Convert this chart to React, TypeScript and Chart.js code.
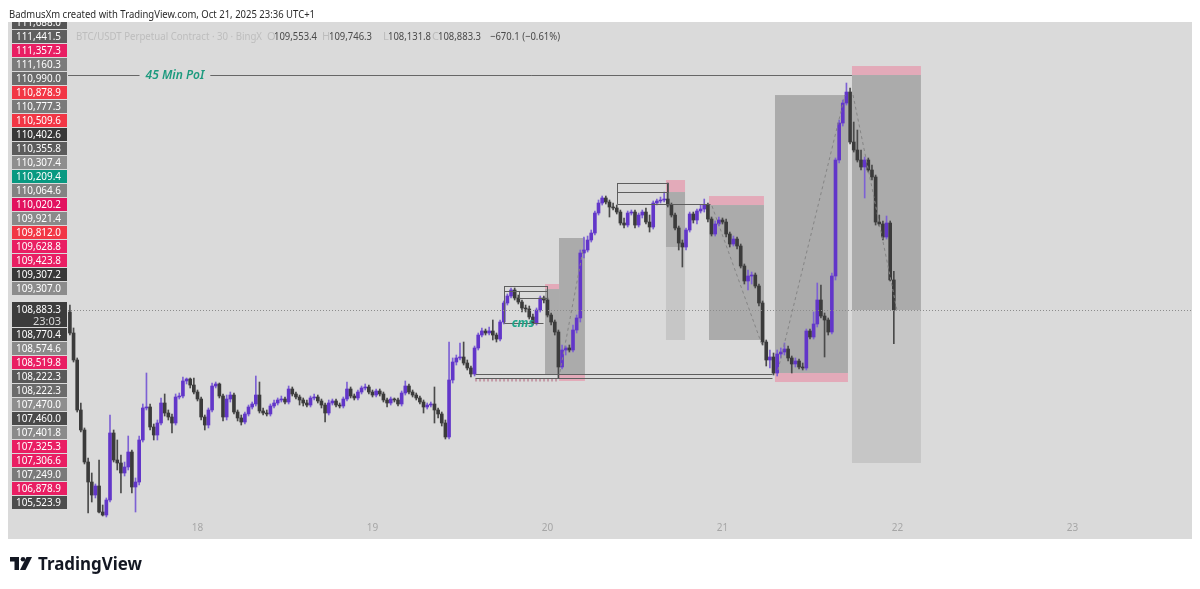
import React, { useEffect, useRef } from "react";
import { Chart, registerables } from "chart.js";

Chart.register(...registerables);

// ---------- data (BTC/USDT perpetual, 30 min candles, BingX) ----------
const FIRST_CANDLE_DAY = 17 + 13 / 48; // 17 Oct 06:30
const CANDLE_DAYS = 1 / 48; // 30 minutes
const FIRST_OPEN = 108838;

const closes = [
  108370, 107768, 106653, 106207, 105493, 105047, 104757, 104958, 104378, 104311,
  104646, 106140, 105538, 105471, 105248, 105382, 105716, 104936, 105047, 105984,
  106698, 106720, 106274, 106095, 106363, 106809, 106586, 106497, 106363, 106943,
  106965, 107300, 107344, 107210, 107054, 106898, 106497, 106318, 106653, 107188,
  107233, 106965, 106497, 106898, 106987, 106608, 106475, 106385, 106564, 106720,
  106787, 106987, 106631, 106586, 106564, 106742, 106809, 106876, 106898, 106831,
  107121, 107010, 106943, 106876, 106809, 106764, 106921, 106943, 106854, 106764,
  106586, 106809, 106854, 106764, 106742, 106898, 107121, 106965, 106921, 107054,
  107144, 107166, 107054, 106987, 107077, 107010, 106876, 106809, 106898, 106876,
  106787, 107032, 107188, 107054, 106987, 106921, 106831, 106720, 106764, 106787,
  106653, 106564, 106363, 106051, 107322, 107723, 107813, 107835, 107701, 107590,
  107456, 108036, 108325, 108415, 108370, 108415, 108325, 108236, 108615, 109039,
  109195, 109329, 109151, 109061, 108928, 108906, 108727, 108593, 108883, 109151,
  109106, 108771, 108615, 108392, 107612, 107991, 108036, 107991, 108437, 108705,
  110154, 110221, 110444, 110600, 111046, 111269, 111381, 111291, 111180, 111158,
  111068, 110823, 110778, 111046, 111068, 110778, 111001, 111068, 110845, 110734,
  111269, 111314, 111336, 111358, 111224, 111001, 110712, 110377, 110288, 110667,
  111024, 110890, 111091, 111135, 111224, 110912, 110578, 110801, 110890, 110845,
  110578, 110355, 110466, 110310, 109864, 109530, 109641, 109663, 109418, 109039,
  108169, 107768, 107835, 107478, 107902, 107946, 108013, 107813, 107679, 107746,
  107612, 107590, 108415, 108281, 108571, 109106, 108749, 108660, 108392, 109641,
  112228, 113053, 113499, 113744, 112629, 112451, 112228, 112072, 112228, 112005,
  111849, 110845, 110801, 110511, 110823, 109553.4, 108883.3,
];

const highs = [
  108994, 108482, 107813, 106809, 106252, 105583, 105248, 105003, 105538, 104534,
  104691, 106541, 106207, 105984, 105649, 105493, 106073, 105761, 105137, 106073,
  106787, 107478, 106787, 106341, 106430, 106921, 107010, 106653, 106564, 107010,
  107032, 107389, 107367, 107367, 107367, 107099, 106943, 106541, 106698, 107255,
  107277, 107255, 107010, 106987, 107054, 107032, 106653, 106541, 106608, 106764,
  106831, 107411, 107277, 106698, 106653, 106787, 106876, 106921, 106965, 106943,
  107188, 107166, 107054, 106987, 106921, 106876, 106965, 107010, 106987, 106898,
  106809, 106876, 106898, 106898, 106809, 106943, 107277, 107166, 107010, 107099,
  107188, 107233, 107210, 107099, 107121, 107121, 107054, 106921, 106943, 106921,
  106921, 107077, 107300, 107233, 107099, 107032, 106965, 106876, 106809, 106831,
  107166, 106698, 106608, 106430, 108169, 107813, 107879, 108147, 108169, 107768,
  107634, 108080, 108370, 108482, 108459, 108504, 108660, 108370, 108660, 109084,
  109240, 109374, 109374, 109217, 109106, 108994, 108972, 108794, 108928, 109195,
  109195, 109151, 108816, 108660, 108437, 108102, 108080, 108102, 108548, 108771,
  110221, 110511, 110533, 110667, 111091, 111336, 111425, 111425, 111336, 111269,
  111224, 111113, 110935, 111091, 111113, 111113, 111046, 111113, 111158, 111001,
  111314, 111358, 111403, 111514, 111715, 111269, 111046, 110756, 110444, 110712,
  111068, 111068, 111135, 111224, 111358, 111269, 110957, 110868, 110957, 110935,
  110912, 110622, 110533, 110511, 110355, 109909, 109775, 109730, 109708, 109463,
  109084, 108214, 107991, 107924, 107991, 108036, 108147, 108080, 107857, 107813,
  107790, 107701, 108459, 108459, 108838, 109485, 109440, 108816, 108705, 109708,
  112273, 113120, 113566, 113945, 113834, 113075, 112897, 112451, 112295, 112273,
  112116, 111893, 111001, 110868, 110979, 110868, 109746.3,
];

const lows = [
  108325, 107723, 106608, 106162, 105449, 104356, 104601, 104691, 104356, 104289,
  104267, 104601, 105493, 105315, 104802, 105181, 105315, 104802, 104378, 104980,
  105939, 106653, 106207, 105984, 105984, 106318, 106519, 106430, 106140, 106318,
  106898, 106921, 107233, 107144, 107010, 106854, 106430, 106207, 106252, 106608,
  107144, 106921, 106408, 106430, 106831, 106564, 106408, 106318, 106341, 106519,
  106675, 106742, 106586, 106541, 106519, 106519, 106698, 106764, 106831, 106787,
  106787, 106965, 106898, 106764, 106742, 106720, 106720, 106876, 106809, 106698,
  106385, 106541, 106764, 106720, 106698, 106698, 106854, 106921, 106876, 106876,
  107010, 107099, 107010, 106943, 106943, 106965, 106831, 106720, 106764, 106831,
  106742, 106742, 106987, 107010, 106943, 106876, 106787, 106586, 106675, 106720,
  106363, 106475, 106296, 106006, 106006, 107255, 107656, 107768, 107656, 107545,
  107389, 107411, 107991, 108281, 108325, 108325, 108214, 108169, 108192, 108571,
  108994, 109151, 109106, 109017, 108838, 108838, 108682, 108548, 108548, 108838,
  109039, 108727, 108548, 108325, 107367, 107567, 107879, 107946, 107946, 108370,
  108615, 110043, 110176, 110399, 110555, 111001, 111224, 111247, 110957, 111113,
  111024, 110778, 110712, 110734, 111001, 110712, 110734, 110935, 110801, 110622,
  110689, 111224, 111269, 111291, 111180, 110957, 110667, 110221, 109842, 110221,
  110622, 110823, 110801, 111046, 111068, 110845, 110533, 110533, 110756, 110801,
  110511, 110288, 110310, 110243, 109820, 109463, 109329, 109463, 109374, 108972,
  108102, 107634, 107590, 107433, 107411, 107813, 107879, 107746, 107478, 107612,
  107567, 107545, 107545, 108236, 108236, 108504, 108705, 107835, 108325, 108348,
  109552, 112161, 112986, 113454, 112585, 112406, 112183, 112005, 111381, 111960,
  111782, 110778, 110756, 110444, 110466, 109530, 108131.8,
];

const dayTicks = [18, 19, 20, 21, 22, 23];
const X_MIN = 17.26;
const X_MAX = 23.683;
const Y_MIN = 104222;
const Y_MAX = 115306;

const LAST_PRICE = 108883.3;
const LAST_PRICE_TEXT = "108,883.3";
const COUNTDOWN_TEXT = "23:03";

// price tags on the left scale (top group, then bottom group)
const upperTags = [
  "111,688.0", "111,441.5", "111,357.3", "111,160.3", "110,990.0", "110,878.9",
  "110,777.3", "110,509.6", "110,402.6", "110,355.8", "110,307.4", "110,209.4",
  "110,064.6", "110,020.2", "109,921.4", "109,812.0", "109,628.8", "109,423.8",
  "109,307.2", "109,307.0",
];
const upperTagColors = [
  "#555555", "#5f5f5f", "#e91e63", "#7b7b7b", "#6c6c6c", "#f23645",
  "#7a7a7a", "#f23645", "#383838", "#5c5c5c", "#8e8e8e", "#089981",
  "#838383", "#e2125f", "#8a8a8a", "#f23645", "#e91e63", "#e91e63",
  "#383838", "#8c8c8c",
];
const lowerTags = [
  "108,770.4", "108,574.6", "108,519.8", "108,222.3", "108,222.3", "107,470.0",
  "107,460.0", "107,401.8", "107,325.3", "107,306.6", "107,249.0", "106,878.9",
  "105,523.9",
];
const lowerTagColors = [
  "#3e3e3e", "#8a8a8a", "#e91e63", "#595959", "#6b6b6b", "#8e8e8e",
  "#4a4a4a", "#8a8a8a", "#e91e63", "#e91e63", "#7a7a7a", "#e91e63",
  "#4d4d4d",
];

// drawings, in (day, price) units
const zones = [
  { t0: 21.74, t1: 22.134, p0: 114124, p1: 114324, kind: "stop" },
  { t0: 21.74, t1: 22.134, p0: 108883, p1: 114124, kind: "dark" },
  { t0: 21.74, t1: 22.134, p0: 105471, p1: 108883, kind: "light" },
  { t0: 21.3, t1: 21.717, p0: 107478, p1: 113677, kind: "dark" },
  { t0: 21.3, t1: 21.717, p0: 107277, p1: 107478, kind: "stop" },
  { t0: 20.923, t1: 21.237, p0: 111224, p1: 111425, kind: "stop" },
  { t0: 20.923, t1: 21.237, p0: 108214, p1: 111224, kind: "dark" },
  { t0: 20.677, t1: 20.786, p0: 111514, p1: 111782, kind: "stop" },
  { t0: 20.677, t1: 20.786, p0: 110288, p1: 111514, kind: "dark" },
  { t0: 20.677, t1: 20.786, p0: 108214, p1: 110288, kind: "light" },
  { t0: 20.066, t1: 20.214, p0: 107433, p1: 110489, kind: "dark" },
  { t0: 20.066, t1: 20.214, p0: 107300, p1: 107433, kind: "stop" },
  { t0: 19.986, t1: 20.066, p0: 107433, p1: 109351, kind: "dark" },
  { t0: 19.986, t1: 20.066, p0: 109351, p1: 109463, kind: "stop" },
];

const frames = [
  { t0: 19.751, t1: 19.997, p0: 109307, p1: 109418 },
  { t0: 19.837, t1: 19.997, p0: 109151, p1: 109307 },
  { t0: 20.397, t1: 20.689, p0: 111514, p1: 111715 },
];

const segments = [
  { t0: 19.751, p0: 109418, t1: 19.751, p1: 108593 },
  { t0: 19.751, p0: 108593, t1: 19.977, p1: 108593 },
  { t0: 19.586, p0: 107456, t1: 21.283, p1: 107456 },
  { t0: 19.586, p0: 107367, t1: 21.283, p1: 107367 },
  { t0: 20.397, p0: 111715, t1: 20.397, p1: 111247 },
  { t0: 20.397, p0: 111247, t1: 20.929, p1: 111247 },
];

const projections = [
  { t0: 20.071, p0: 107500, t1: 20.203, p1: 110221 },
  { t0: 20.94, p0: 111202, t1: 21.226, p1: 108102 },
  { t0: 21.317, p0: 107545, t1: 21.7, p1: 113677 },
  { t0: 21.746, p0: 113677, t1: 21.997, p1: 108883 },
];

const hatch = { t0: 19.586, t1: 20.066, p: 107322 };

const poi = { label: "45 Min PoI", price: 114124, t1: 21.74, labelDay: 17.871 };
const cms = { label: "cms", day: 19.86, price: 108593 };

const HEADER_TEXT = "BadmusXm created with TradingView.com, Oct 21, 2025 23:36 UTC+1";
const SYMBOL_TEXT = "BTC/USDT Perpetual Contract · 30 · BingX";
const ohlcLetters = ["O", "H", "L", "C"];
const ohlcValues = ["109,553.4", "109,746.3", "108,131.8", "108,883.3"];
const CHANGE_TEXT = "\u2212670.1 (\u22120.61%)";

const BULL = "#6236c9";
const BEAR = "#3b3b3b";
const BULL_WICK = "#7d61d4";
const BEAR_WICK = "#4a4a4a";
const FONT = "'Noto Sans', 'DejaVu Sans', sans-serif";

export default function App() {
  const ref = useRef<HTMLCanvasElement | null>(null);

  useEffect(() => {
    const canvas = ref.current;
    if (!canvas) return;

    const opens = closes.map((c, i) => (i === 0 ? FIRST_OPEN : closes[i - 1]));
    const times = closes.map((_, i) => FIRST_CANDLE_DAY + i * CANDLE_DAYS);
    const up = closes.map((c, i) => c >= opens[i]);

    const zoneColor: Record<string, string> = {
      stop: "#e3aab9",
      dark: "#ababab",
      light: "#c6c6c6",
    };

    const overlay = {
      id: "overlay",
      beforeDraw(chart: any) {
        const { ctx, width, height } = chart;
        ctx.save();
        ctx.fillStyle = "#ffffff";
        ctx.fillRect(0, 0, width, height);
        ctx.fillStyle = "#dadada";
        ctx.fillRect(0, 14, width, 517);
        ctx.restore();
      },
      beforeDatasetsDraw(chart: any) {
        const { ctx, chartArea } = chart;
        const xs = chart.scales.x;
        const ys = chart.scales.y;
        ctx.save();
        ctx.beginPath();
        ctx.rect(chartArea.left, chartArea.top, chartArea.right - chartArea.left, chartArea.bottom - chartArea.top);
        ctx.clip();
        for (const z of zones) {
          const x0 = xs.getPixelForValue(z.t0);
          const x1 = xs.getPixelForValue(z.t1);
          const y0 = ys.getPixelForValue(z.p1);
          const y1 = ys.getPixelForValue(z.p0);
          ctx.fillStyle = zoneColor[z.kind];
          ctx.fillRect(x0, y0, x1 - x0, y1 - y0);
        }
        ctx.restore();
      },
      afterDatasetsDraw(chart: any) {
        const { ctx, chartArea } = chart;
        const xs = chart.scales.x;
        const ys = chart.scales.y;
        const px = (t: number) => xs.getPixelForValue(t);
        const py = (p: number) => ys.getPixelForValue(p);
        ctx.save();
        ctx.beginPath();
        ctx.rect(chartArea.left, chartArea.top, chartArea.right - chartArea.left, chartArea.bottom - chartArea.top);
        ctx.clip();

        // dashed projections
        ctx.strokeStyle = "#858585";
        ctx.lineWidth = 1;
        ctx.setLineDash([3, 3]);
        for (const s of projections) {
          ctx.beginPath();
          ctx.moveTo(px(s.t0), py(s.p0));
          ctx.lineTo(px(s.t1), py(s.p1));
          ctx.stroke();
        }

        // hatched strip
        ctx.strokeStyle = "#c49aa6";
        ctx.lineWidth = 3;
        ctx.setLineDash([2, 2]);
        ctx.beginPath();
        ctx.moveTo(px(hatch.t0), py(hatch.p));
        ctx.lineTo(px(hatch.t1), py(hatch.p));
        ctx.stroke();
        ctx.setLineDash([]);

        // outlines and segments
        ctx.strokeStyle = "#5e5e5e";
        ctx.lineWidth = 1;
        for (const f of frames) {
          const x0 = Math.round(px(f.t0)) + 0.5;
          const x1 = Math.round(px(f.t1)) + 0.5;
          const y0 = Math.round(py(f.p1)) + 0.5;
          const y1 = Math.round(py(f.p0)) + 0.5;
          ctx.strokeRect(x0, y0, x1 - x0, y1 - y0);
        }
        for (const s of segments) {
          ctx.beginPath();
          ctx.moveTo(Math.round(px(s.t0)) + 0.5, Math.round(py(s.p0)) + 0.5);
          ctx.lineTo(Math.round(px(s.t1)) + 0.5, Math.round(py(s.p1)) + 0.5);
          ctx.stroke();
        }

        // 45 Min PoI line with label
        ctx.font = `italic 600 12px ${FONT}`;
        const lx = px(poi.labelDay);
        const lw = ctx.measureText(poi.label).width;
        const ly = Math.round(py(poi.price)) + 0.5;
        ctx.strokeStyle = "#666666";
        ctx.beginPath();
        ctx.moveTo(chartArea.left, ly);
        ctx.lineTo(lx - lw / 2 - 6, ly);
        ctx.moveTo(lx + lw / 2 + 6, ly);
        ctx.lineTo(px(poi.t1), ly);
        ctx.stroke();
        ctx.fillStyle = "#1c9a7e";
        ctx.textAlign = "center";
        ctx.textBaseline = "middle";
        ctx.fillText(poi.label, lx, ly);

        // cms label
        ctx.font = `italic 700 12px ${FONT}`;
        ctx.fillStyle = "#1fa58a";
        ctx.fillText(cms.label, px(cms.day), py(cms.price) + 1);

        // last price dotted line
        const cy = Math.round(py(LAST_PRICE)) + 0.5;
        ctx.strokeStyle = "#8c8c8c";
        ctx.setLineDash([1, 2]);
        ctx.beginPath();
        ctx.moveTo(chartArea.left, cy);
        ctx.lineTo(chartArea.right, cy);
        ctx.stroke();
        ctx.setLineDash([]);
        ctx.restore();
      },
      afterDraw(chart: any) {
        const { ctx } = chart;
        ctx.save();
        // price tags column
        ctx.beginPath();
        ctx.rect(0, 14, chart.width, 517);
        ctx.clip();
        ctx.font = `11px ${FONT}`;
        ctx.textAlign = "right";
        ctx.textBaseline = "middle";
        const tag = (top: number, h: number, color: string, text: string) => {
          ctx.fillStyle = color;
          ctx.fillRect(4, top, 55, h);
          ctx.fillStyle = "#ffffff";
          ctx.fillText(text, 53, top + h / 2 + 0.5, 45);
        };
        upperTags.forEach((t, k) => tag(8 + 14 * k, 13, upperTagColors[k], t));
        // last price tag with countdown
        ctx.fillStyle = "#3c3c3c";
        ctx.fillRect(4, 294, 55, 25);
        ctx.fillStyle = "#ffffff";
        ctx.fillText(LAST_PRICE_TEXT, 53, 301.5, 45);
        ctx.fillStyle = "#d8d8d8";
        ctx.fillText(COUNTDOWN_TEXT, 53, 313.5, 45);
        lowerTags.forEach((t, k) => tag(320 + 14 * k, 13, lowerTagColors[k], t));

        // legend line
        ctx.textAlign = "left";
        ctx.textBaseline = "alphabetic";
        ctx.font = `11px ${FONT}`;
        ctx.fillStyle = "#bdbdbd";
        ctx.fillText(SYMBOL_TEXT, 68, 32, 186);
        const letterX = [259, 314, 375, 424];
        const valueX = [266, 321, 380, 430];
        ohlcLetters.forEach((l, k) => {
          ctx.fillStyle = "#bdbdbd";
          ctx.fillText(l, letterX[k], 32);
          ctx.fillStyle = "#4a4a4a";
          ctx.fillText(ohlcValues[k], valueX[k], 32, 43);
        });
        ctx.fillText(CHANGE_TEXT, 482, 32, 70);
        ctx.restore();

        // page header and logo
        ctx.save();
        ctx.textAlign = "left";
        ctx.textBaseline = "alphabetic";
        ctx.font = `11px ${FONT}`;
        ctx.fillStyle = "#2a2a2a";
        ctx.fillText(HEADER_TEXT, 1, 9.5, 306);

        const ix = 2;
        const iy = 549;
        ctx.fillStyle = "#131722";
        ctx.fillRect(ix, iy, 9, 4.5);
        ctx.fillRect(ix + 4.5, iy, 4.5, 13);
        ctx.beginPath();
        ctx.arc(ix + 13, iy + 2.3, 2.3, 0, Math.PI * 2);
        ctx.fill();
        ctx.beginPath();
        ctx.moveTo(ix + 16.5, iy);
        ctx.lineTo(ix + 22, iy);
        ctx.lineTo(ix + 15.5, iy + 13);
        ctx.lineTo(ix + 10, iy + 13);
        ctx.closePath();
        ctx.fill();
        ctx.font = `bold 18px ${FONT}`;
        ctx.fillText("TradingView", 30, 562, 104);
        ctx.restore();
      },
    };

    const chart = new Chart(canvas, {
      type: "bar",
      data: {
        datasets: [
          {
            label: "body",
            data: times.map((t, i) => ({ x: t, y: [opens[i], closes[i]] })) as any,
            backgroundColor: up.map((u) => (u ? BULL : BEAR)),
            barThickness: 3,
            minBarLength: 1,
            grouped: false,
            borderWidth: 0,
            order: 0,
          } as any,
          {
            label: "wick",
            data: times.map((t, i) => ({ x: t, y: [lows[i], highs[i]] })) as any,
            backgroundColor: up.map((u) => (u ? BULL_WICK : BEAR_WICK)),
            barThickness: 1,
            grouped: false,
            borderWidth: 0,
            order: 1,
          } as any,
        ],
      },
      options: {
        animation: false,
        responsive: false,
        devicePixelRatio: 1,
        events: [],
        layout: { padding: { left: 60, top: 14, right: 0, bottom: 42 } },
        plugins: { legend: { display: false }, tooltip: { enabled: false } },
        scales: {
          x: {
            type: "linear",
            offset: false,
            min: X_MIN,
            max: X_MAX,
            grid: { display: false, drawTicks: false, offset: false },
            border: { display: false },
            afterBuildTicks: (s: any) => {
              s.ticks = dayTicks.map((v) => ({ value: v }));
            },
            afterFit: (s: any) => {
              s.height = 20;
            },
            ticks: {
              color: "#a6a6a6",
              padding: 3,
              autoSkip: false,
              maxRotation: 0,
              font: { family: FONT, size: 10 },
              callback: (v: any) => String(v),
            },
          },
          y: { display: false, min: Y_MIN, max: Y_MAX },
        },
      } as any,
      plugins: [overlay],
    });

    return () => chart.destroy();
  }, []);

  return (
    <div style={{ width: 1184, height: 573 }}>
      <canvas ref={ref} width={1184} height={573} style={{ display: "block" }} />
    </div>
  );
}
